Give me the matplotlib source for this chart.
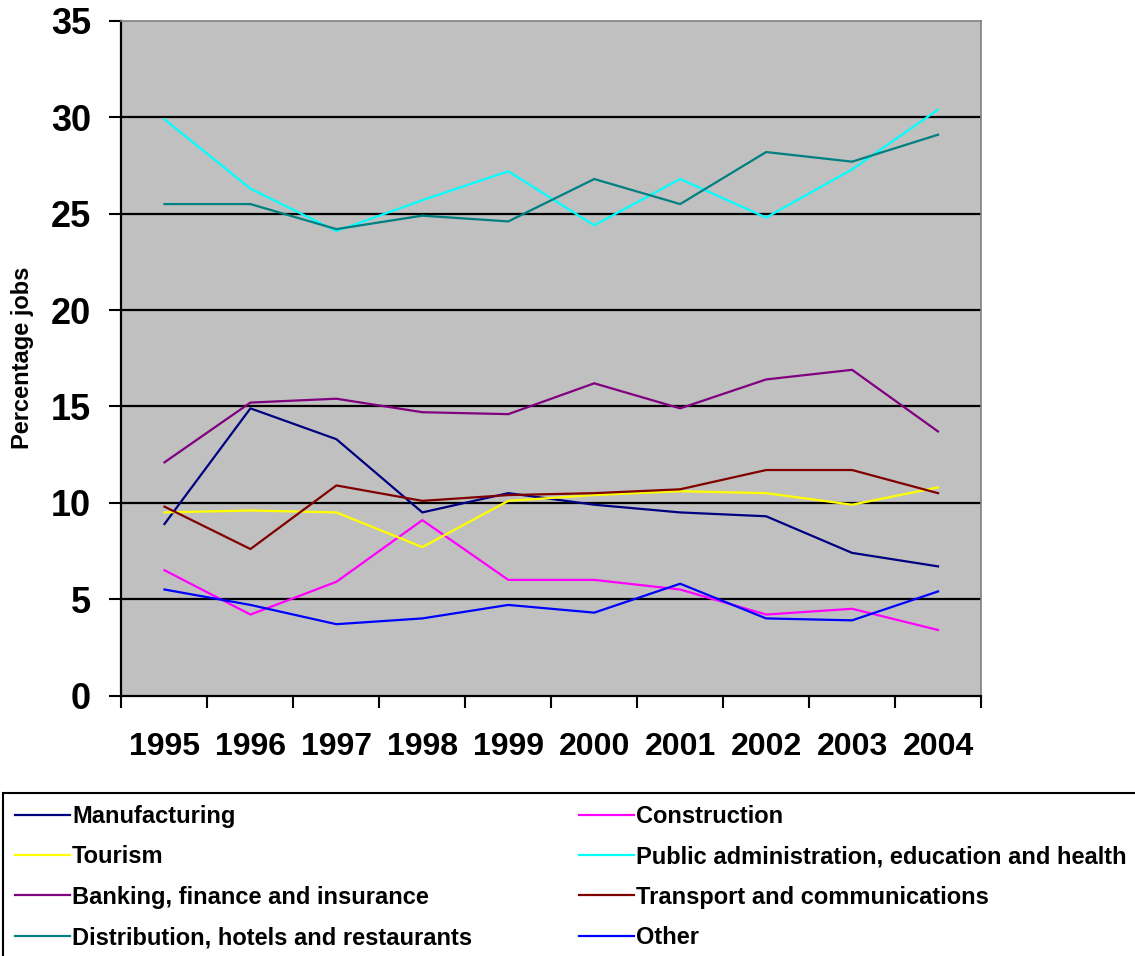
import matplotlib
matplotlib.use("Agg")
import matplotlib.pyplot as plt
import numpy as np

plt.rcParams['font.family'] = ['Liberation Sans', 'DejaVu Sans']
plt.rcParams['font.weight'] = 'bold'

years = ['1995', '1996', '1997', '1998', '1999', '2000', '2001', '2002', '2003', '2004']

manufacturing = [8.9, 14.9, 13.3, 9.5, 10.5, 9.9, 9.5, 9.3, 7.4, 6.7]
construction = [6.5, 4.2, 5.9, 9.1, 6.0, 6.0, 5.5, 4.2, 4.5, 3.4]
tourism = [9.5, 9.6, 9.5, 7.7, 10.1, 10.4, 10.6, 10.5, 9.9, 10.8]
public_admin = [29.9, 26.3, 24.1, 25.7, 27.2, 24.4, 26.8, 24.8, 27.3, 30.4]
banking = [12.1, 15.2, 15.4, 14.7, 14.6, 16.2, 14.9, 16.4, 16.9, 13.7]
transport = [9.8, 7.6, 10.9, 10.1, 10.4, 10.5, 10.7, 11.7, 11.7, 10.5]
distribution = [25.5, 25.5, 24.2, 24.9, 24.6, 26.8, 25.5, 28.2, 27.7, 29.1]
other = [5.5, 4.7, 3.7, 4.0, 4.7, 4.3, 5.8, 4.0, 3.9, 5.4]

series = [
    ('Manufacturing', manufacturing, '#000080'),
    ('Construction', construction, '#FF00FF'),
    ('Tourism', tourism, '#FFFF00'),
    ('Public administration, education and health', public_admin, '#00FFFF'),
    ('Banking, finance and insurance', banking, '#800080'),
    ('Transport and communications', transport, '#800000'),
    ('Distribution, hotels and restaurants', distribution, '#008080'),
    ('Other', other, '#0000FF'),
]

fig = plt.figure(figsize=(11.35, 9.56), dpi=100)
ax = fig.add_axes([121.5 / 1135, 1 - 695.5 / 956, 859.5 / 1135, 674.5 / 956])
ax.set_facecolor('#C0C0C0')

x = np.arange(len(years))
handles = {}
for name, vals, col in series:
    ln, = ax.plot(x, vals, color=col, lw=1.6, label=name, zorder=3)
    handles[name] = ln

# gridlines (inner ones only, top edge is the gray frame)
yt = np.arange(0, 36, 5)
for v in yt[1:-1]:
    ax.axhline(v, color='black', lw=1.6, zorder=2)

ax.set_xlim(-0.5, len(years) - 0.5)
ax.set_ylim(0, 35)
ax.set_yticks(yt)
ax.set_yticklabels([str(v) for v in yt], fontsize=26, fontweight='bold')
ax.set_xticks(x)
ax.set_xticklabels(years, fontsize=23, fontweight='bold')
ax.set_xticks(np.arange(-0.5, len(years)), minor=True)
ax.tick_params(axis='x', which='major', length=0, pad=26)
ax.tick_params(axis='x', which='minor', length=8.5, width=1.5, direction='out')
ax.tick_params(axis='y', length=9, width=1.5, direction='out', pad=13)

ax.spines['left'].set_linewidth(1.6)
ax.spines['bottom'].set_linewidth(1.6)
for s in ('top', 'right'):
    ax.spines[s].set_color('#808080')
    ax.spines[s].set_linewidth(1.2)

ax.set_ylabel('Percentage jobs', fontsize=17, fontweight='bold', labelpad=12)

order = ['Manufacturing', 'Tourism', 'Banking, finance and insurance',
         'Distribution, hotels and restaurants', 'Construction',
         'Public administration, education and health',
         'Transport and communications', 'Other']
leg = fig.legend([handles[n] for n in order], order, ncol=2, loc='upper left',
                 bbox_to_anchor=(3 / 1135, 1 - 793 / 956), borderaxespad=0,
                 fancybox=False, edgecolor='black', framealpha=1,
                 prop={'size': 17, 'weight': 'bold'}, borderpad=0.5,
                 handlelength=2.33, handletextpad=0.1, columnspacing=4.5,
                 labelspacing=0.74)
leg.get_frame().set_linewidth(1.5)

fig.savefig('out.png', dpi=100)
